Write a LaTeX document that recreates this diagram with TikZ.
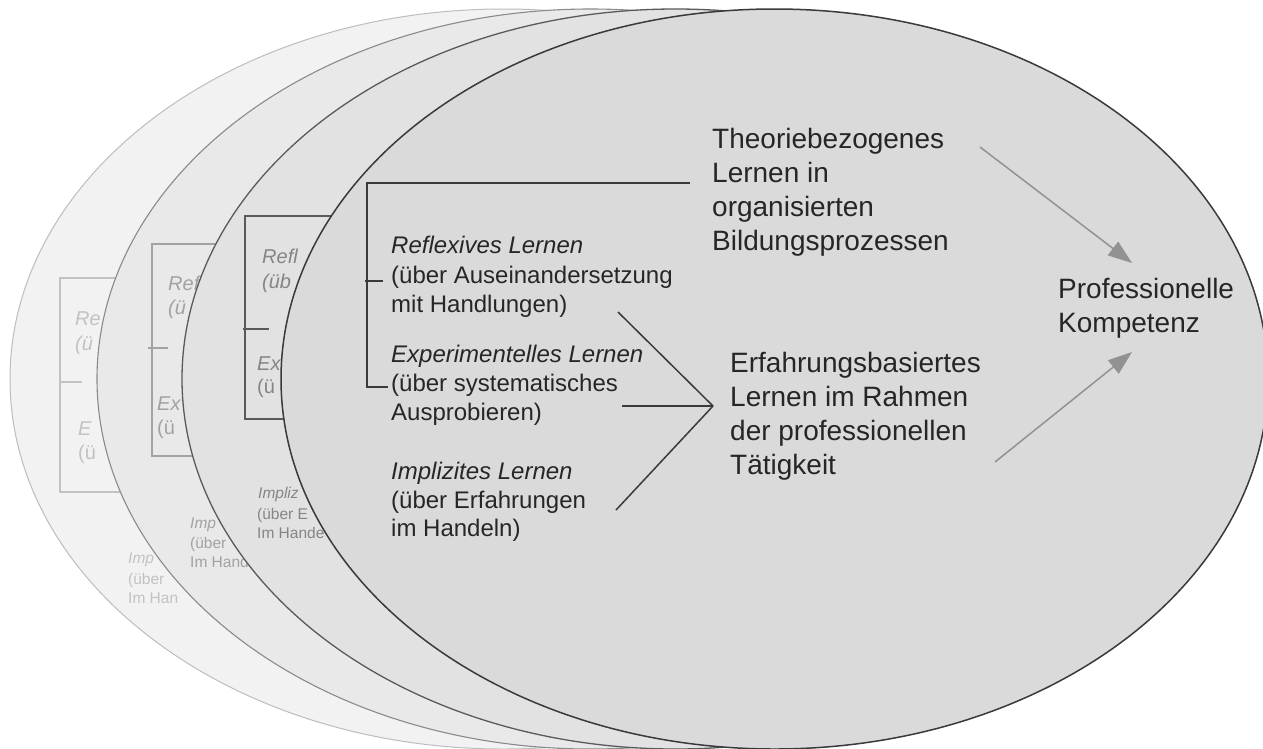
\documentclass[tikz,border=0pt]{standalone}
\usepackage{fontspec}
\setmainfont{Liberation Sans}
\usetikzlibrary{arrows.meta}
\definecolor{eA}{HTML}{F2F2F2}
\definecolor{eB}{HTML}{E9E9E9}
\definecolor{eC}{HTML}{E2E2E2}
\definecolor{eD}{HTML}{DADADA}
\definecolor{sA}{HTML}{BDBDBD}
\definecolor{sB}{HTML}{8A8A8A}
\definecolor{sC}{HTML}{5A5A5A}
\definecolor{sD}{HTML}{3A3A3A}
\definecolor{gA}{HTML}{C2C2C2}
\definecolor{gB}{HTML}{A2A2A2}
\definecolor{gC}{HTML}{858585}
\definecolor{txt}{HTML}{262626}
\definecolor{arr}{HTML}{929292}
\tikzset{
  lbl/.style={anchor=base west, inner sep=0pt, text=txt},
  small/.style={lbl, font=\fontsize{24}{28}\selectfont},
  smallit/.style={lbl, font=\fontsize{24}{28}\selectfont\itshape},
  big/.style={lbl, font=\fontsize{28}{34}\selectfont},
  ghost/.style={anchor=base west, inner sep=0pt, text=#1},
  gmid/.style={font=\fontsize{20}{24}\selectfont},
  gmidit/.style={font=\fontsize{20}{24}\selectfont\itshape},
  gsm/.style={font=\fontsize{15.5}{19}\selectfont},
  gsmit/.style={font=\fontsize{15.5}{19}\selectfont\itshape},
  bracket/.style={draw=#1, line width=1.4pt},
  fishline/.style={draw=sD, line width=1.5pt},
  grayarrow/.style={draw=arr, line width=1.5pt, -{Triangle[length=24pt,width=17pt,fill=arr]}}
}
\begin{document}
\begin{tikzpicture}[x=1pt,y=-1pt]
\useasboundingbox (0,0) rectangle (1263,748);
\fill[white] (0,0) rectangle (1263,748);

% ---- layer 1 (back) ----
\path[draw=sA, line width=1pt, fill=eA] (503.5,379) ellipse [x radius=493.5pt, y radius=370pt];
\coordinate (r1a) at (160,278); \coordinate (r1b) at (60,278);
\coordinate (r1c) at (60,492); \coordinate (r1d) at (160,492);
\draw[bracket=gA] (r1a) -- (r1b) -- (r1c) -- (r1d);
\coordinate (t1a) at (60,382); \coordinate (t1b) at (82,382);
\draw[bracket=gA] (t1a) -- (t1b);
\node[ghost=gA, gmidit] (g1a) at (75,325) {Re};
\node[ghost=gA, gmidit] (g1b) at (75,350) {(ü};
\node[ghost=gA, gmidit] (g1c) at (78,435) {E};
\node[ghost=gA, gmid] (g1d) at (78,459) {(ü};
\node[ghost=gA, gsmit] (g1e) at (128,563) {Imp};
\node[ghost=gA, gsm] (g1f) at (128,584) {(über};
\node[ghost=gA, gsm] (g1g) at (128,603) {Im Han};

% ---- layer 2 ----
\path[draw=sB, line width=1.1pt, fill=eB] (590.5,379) ellipse [x radius=493.5pt, y radius=370pt];
\coordinate (r2a) at (260,244); \coordinate (r2b) at (152,244);
\coordinate (r2c) at (152,456); \coordinate (r2d) at (260,456);
\draw[bracket=gB] (r2a) -- (r2b) -- (r2c) -- (r2d);
\coordinate (t2a) at (148,348); \coordinate (t2b) at (168,348);
\draw[bracket=gB] (t2a) -- (t2b);
\node[ghost=gB, gmidit] (g2a) at (168,290) {Ref};
\node[ghost=gB, gmidit] (g2b) at (168,314) {(ü};
\node[ghost=gB, gmidit] (g2c) at (157,410) {Ex};
\node[ghost=gB, gmid] (g2d) at (157,434) {(ü};
\node[ghost=gB, gsmit] (g2e) at (190,528) {Imp};
\node[ghost=gB, gsm] (g2f) at (190,548) {(über};
\node[ghost=gB, gsm] (g2g) at (190,567) {Im Hand};

% ---- layer 3 ----
\path[draw=sC, line width=1.3pt, fill=eC] (675.5,379) ellipse [x radius=493.5pt, y radius=370pt];
\coordinate (r3a) at (400,216); \coordinate (r3b) at (245,216);
\coordinate (r3c) at (245,419); \coordinate (r3d) at (320,419);
\draw[bracket=sC] (r3a) -- (r3b) -- (r3c) -- (r3d);
\coordinate (t3a) at (243,329); \coordinate (t3b) at (269,329);
\draw[bracket=sC] (t3a) -- (t3b);
\node[ghost=gC, gmidit] (g3a) at (262,263) {Refl};
\node[ghost=gC, gmidit] (g3b) at (262,288) {(üb};
\node[ghost=gC, gmidit] (g3c) at (257,370) {Ex};
\node[ghost=gC, gmid] (g3d) at (257,393) {(ü};
\node[ghost=gC, gsmit] (g3e) at (258,498) {Impliz};
\node[ghost=gC, gsm] (g3f) at (257,519) {(über E};
\node[ghost=gC, gsm] (g3g) at (257,538) {Im Hande};

% ---- front layer ----
\path[draw=sD, line width=1.5pt, fill=eD] (774.5,379) ellipse [x radius=493.5pt, y radius=370pt];

\coordinate (brTop) at (690,183); \coordinate (brTL) at (367,183);
\coordinate (brBL) at (367,387); \coordinate (brBR) at (388,387);
\draw[bracket=sD] (brTop) -- (brTL) -- (brBL) -- (brBR);
\coordinate (tickL) at (365,281); \coordinate (tickR) at (383,281);
\draw[bracket=sD] (tickL) -- (tickR);

\node[smallit] (refl1) at (391,253) {Reflexives Lernen};
\node[small] (refl2) at (391,283) {(über Auseinandersetzung};
\node[small] (refl3) at (391,312) {mit Handlungen)};
\node[smallit] (exp1) at (391,362) {Experimentelles Lernen};
\node[small] (exp2) at (391,391) {(über systematisches};
\node[small] (exp3) at (391,420) {Ausprobieren)};
\node[smallit] (imp1) at (391,479) {Implizites Lernen};
\node[small] (imp2) at (391,508) {(über Erfahrungen};
\node[small] (imp3) at (391,536) {im Handeln)};

\node[big] (th1) at (712,148) {Theoriebezogenes};
\node[big] (th2) at (712,182) {Lernen in};
\node[big] (th3) at (712,216) {organisierten};
\node[big] (th4) at (712,250) {Bildungsprozessen};

\node[big] (er1) at (730,372) {Erfahrungsbasiertes};
\node[big] (er2) at (730,406) {Lernen im Rahmen};
\node[big] (er3) at (730,440) {der professionellen};
\node[big] (er4) at (730,474) {Tätigkeit};

\node[big] (pk1) at (1058,298) {Professionelle};
\node[big] (pk2) at (1058,332) {Kompetenz};

\coordinate (apex) at (713,406);
\coordinate (fishA) at (618,312);
\coordinate (fishB) at (622,406);
\coordinate (fishC) at (616,510);
\draw[fishline] (fishA) -- (apex);
\draw[fishline] (fishB) -- (apex);
\draw[fishline] (fishC) -- (apex);

\coordinate (arA1) at (980,147); \coordinate (arA2) at (1132,263);
\coordinate (arB1) at (995,462); \coordinate (arB2) at (1132,352);
\draw[grayarrow] (arA1) -- (arA2);
\draw[grayarrow] (arB1) -- (arB2);
\end{tikzpicture}
\end{document}
